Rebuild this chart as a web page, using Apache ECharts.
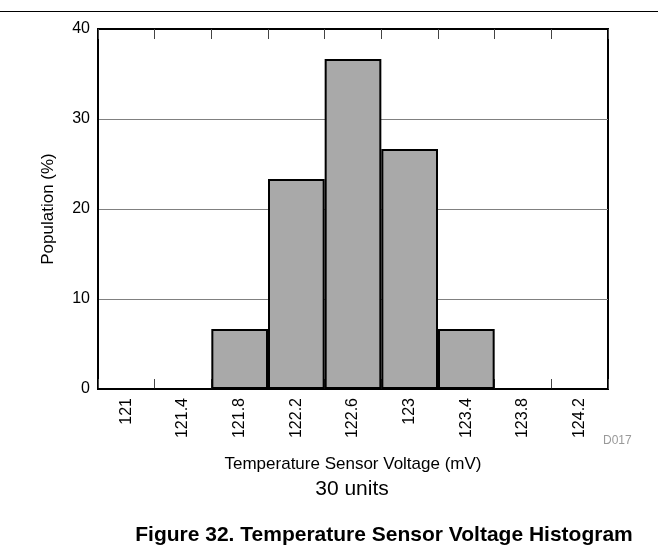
<!DOCTYPE html>
<html><head><meta charset="utf-8">
<script src="https://cdn.jsdelivr.net/npm/echarts@6/dist/echarts.min.js"></script>
<style>html,body{margin:0;padding:0;background:#fff}#c{width:658px;height:552px}</style>
</head><body><div id="c"></div>
<script>
const categories = ['121','121.4','121.8','122.2','122.6','123','123.4','123.8','124.2'];
const population = [0, 0, 6.67, 23.33, 36.67, 26.67, 6.67, 0, 0];
const yTicks = [0, 10, 20, 30, 40];

const F = 'Liberation Sans, Arial, sans-serif';
const chart = echarts.init(document.getElementById('c'));
chart.setOption({
  animation: false,
  backgroundColor: '#fff',
  grid: { left: 98, right: 50, top: 29, bottom: 163, show: true, borderColor: '#000', borderWidth: 2, backgroundColor: 'transparent' },
  graphic: [
    { type: 'line', shape: { x1: 0, y1: 11.5, x2: 658, y2: 11.5 }, style: { stroke: '#000', lineWidth: 1 } },
    { type: 'text', x: 352, y: 489, style: { text: '30 units', font: '21px ' + F, fill: '#000', align: 'center', verticalAlign: 'middle' } },
    { type: 'text', x: 384, y: 535, style: { text: 'Figure 32. Temperature Sensor Voltage Histogram', font: 'bold 21px ' + F, fill: '#000', align: 'center', verticalAlign: 'middle' } },
    { type: 'text', x: 603, y: 441, style: { text: 'D017', font: '12px ' + F, fill: '#999', align: 'left', verticalAlign: 'middle' } }
  ],
  xAxis: [{
    type: 'category', data: categories, position: 'bottom',
    axisLine: { show: true, lineStyle: { color: '#000', width: 2 } },
    axisTick: { show: true, inside: true, length: 10, lineStyle: { color: '#444', width: 1 } },
    axisLabel: { rotate: 90, color: '#000', fontSize: 16, fontFamily: F, margin: 9 },
    name: 'Temperature Sensor Voltage (mV)', nameLocation: 'middle', nameGap: 67,
    nameTextStyle: { color: '#000', fontSize: 17, fontFamily: F }
  }, {
    type: 'category', data: categories, position: 'top',
    axisLine: { show: true, lineStyle: { color: '#000', width: 2 } },
    axisTick: { show: true, inside: true, length: 10, lineStyle: { color: '#444', width: 1 } },
    axisLabel: { show: false }
  }],
  yAxis: {
    type: 'value', min: yTicks[0], max: yTicks[yTicks.length - 1], interval: 10,
    axisLine: { show: true, lineStyle: { color: '#000', width: 2 } },
    axisTick: { show: false },
    axisLabel: { color: '#000', fontSize: 16, fontFamily: F, margin: 8 },
    splitLine: { show: true, lineStyle: { color: '#808080', width: 1 } },
    name: 'Population (%)', nameLocation: 'middle', nameGap: 41,
    nameTextStyle: { color: '#000', fontSize: 17, fontFamily: F }
  },
  series: [{
    type: 'bar', data: population, barWidth: '100%', barCategoryGap: 0,
    itemStyle: { color: '#a9a9a9', borderColor: '#000', borderWidth: 2 }
  }]
});
</script></body></html>
